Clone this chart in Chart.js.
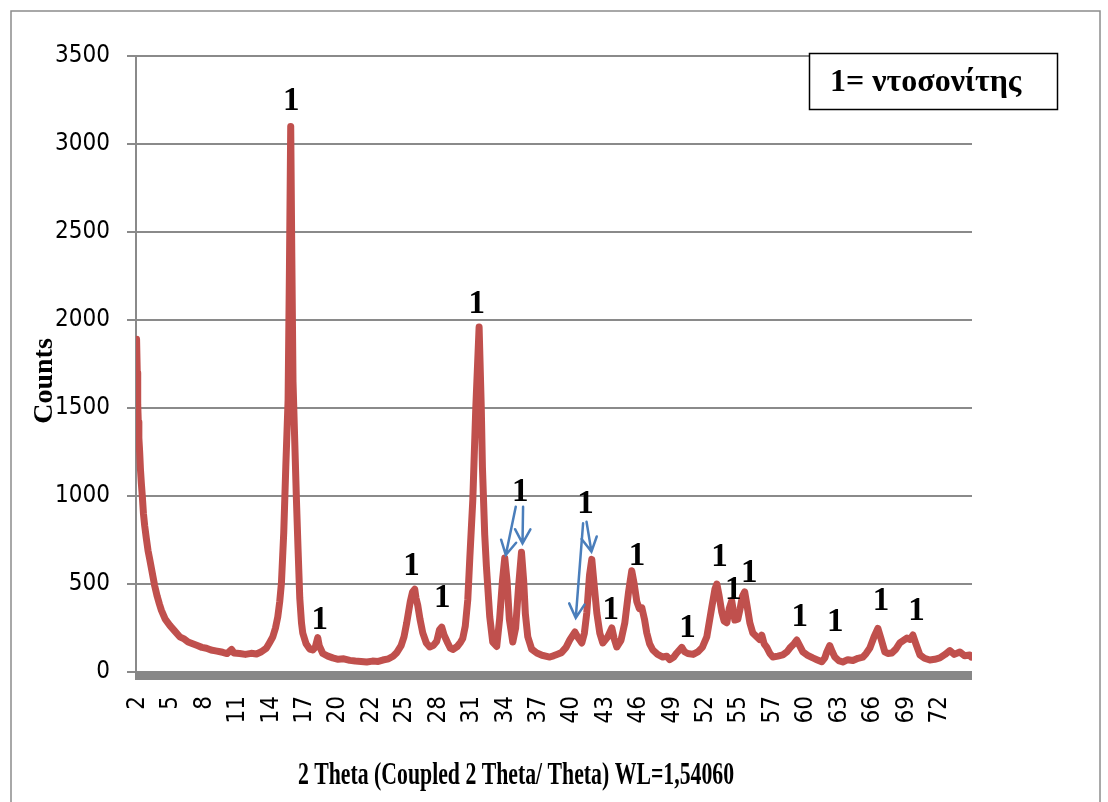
<!DOCTYPE html>
<html>
<head>
<meta charset="utf-8">
<script src="https://cdn.jsdelivr.net/npm/chart.js@4.4.0/dist/chart.umd.min.js"></script>
<style>
  html, body { margin: 0; padding: 0; background: #fff; }
  #wrap { width: 1108px; height: 802px; }
</style>
</head>
<body>
<div id="wrap"><canvas id="xrdChart" width="1108" height="802"></canvas></div>
<script>
const twoTheta = [
  1.90, 1.96, 2.00, 2.05, 2.10, 2.17, 2.24, 2.32, 2.40, 2.50, 2.61, 2.75, 2.90, 3.05, 3.25, 3.48, 3.70, 3.90, 4.07, 4.40,
  4.80, 5.20, 5.67, 6.00, 6.40, 6.80, 7.20, 7.60, 8.00, 8.40, 8.80, 9.20, 9.42, 9.80, 10.20, 10.40, 10.90, 11.40, 11.90, 12.37,
  12.80, 13.24, 13.50, 13.79, 14.03, 14.23, 14.40, 14.55, 14.75, 14.93, 15.13, 15.25, 15.36, 15.45, 15.56, 15.65, 15.86, 16.00, 16.15, 16.30,
  16.41, 16.70, 17.02, 17.28, 17.50, 17.72, 17.85, 18.16, 18.60, 19.03, 19.50, 20.00, 20.52, 21.00, 21.50, 22.00, 22.50, 23.00, 23.40, 23.90,
  24.30, 24.62, 25.00, 25.25, 25.49, 25.80, 26.00, 26.19, 26.30, 26.45, 26.65, 26.89, 27.20, 27.50, 27.80, 28.11, 28.35, 28.55, 28.75, 29.07,
  29.30, 29.51, 29.90, 30.20, 30.38, 30.60, 30.82, 31.00, 31.26, 31.52, 31.81, 32.00, 32.10, 32.30, 32.45, 32.74, 33.00, 33.35, 33.60, 33.85,
  34.05, 34.25, 34.45, 34.75, 35.00, 35.25, 35.51, 35.70, 35.85, 36.06, 36.40, 36.85, 37.30, 37.98, 38.30, 38.60, 39.00, 39.40, 39.73, 40.00,
  40.17, 40.40, 40.78, 41.00, 41.21, 41.45, 41.65, 41.85, 42.09, 42.35, 42.61, 43.05, 43.40, 43.60, 43.83, 44.20, 44.53, 44.85, 45.14, 45.35,
  45.58, 45.80, 46.02, 46.25, 46.45, 46.70, 46.98, 47.40, 47.85, 48.20, 48.46, 48.80, 49.07, 49.51, 49.75, 50.03, 50.50, 50.90, 51.30, 51.69,
  52.13, 52.40, 52.57, 52.75, 53.00, 53.20, 53.44, 53.65, 53.87, 54.05, 54.14, 54.40, 54.60, 54.80, 55.00, 55.20, 55.45, 55.71, 56.14, 56.30,
  56.49, 56.70, 56.93, 57.20, 57.46, 57.90, 58.33, 58.70, 58.94, 59.30, 59.55, 59.80, 60.08, 60.50, 60.95, 61.30, 61.73, 62.00, 62.17, 62.43,
  62.65, 62.87, 63.20, 63.57, 64.00, 64.45, 64.90, 65.32, 65.60, 65.93, 66.30, 66.63, 66.90, 67.24, 67.50, 67.85, 68.20, 68.55, 69.16, 69.45,
  69.69, 69.95, 70.30, 70.70, 71.17, 71.60, 72.04, 72.50, 72.92, 73.30, 73.79, 74.20, 74.66, 74.78
];
const counts = [
  1890, 1700, 1520, 1420, 1330, 1250, 1150, 1070, 1000, 900, 830, 760, 690, 640, 570, 490, 430, 385, 350, 300,
  265, 235, 200, 190, 170, 160, 150, 140, 135, 125, 120, 115, 112, 105, 128, 108, 105, 100, 106, 102,
  115, 136, 165, 199, 250, 313, 400, 506, 790, 1165, 1545, 2300, 3100, 2400, 1650, 1450, 977, 700, 420, 280,
  222, 160, 130, 125, 140, 195, 150, 105, 90, 80, 72, 75, 66, 62, 60, 57, 62, 60, 68, 75,
  90, 110, 150, 200, 280, 400, 455, 470, 420, 380, 300, 222, 165, 142, 150, 175, 240, 255, 210, 165,
  135, 128, 145, 170, 190, 260, 409, 650, 977, 1500, 1960, 1500, 1165, 780, 597, 313, 170, 145, 300, 520,
  648, 520, 300, 170, 250, 480, 680, 520, 330, 200, 130, 108, 95, 85, 92, 100, 110, 140, 182, 210,
  227, 200, 165, 220, 335, 550, 640, 500, 335, 220, 165, 200, 250, 190, 142, 180, 278, 450, 575, 500,
  400, 360, 365, 300, 222, 160, 125, 100, 85, 90, 70, 85, 108, 140, 115, 105, 100, 114, 140, 199,
  369, 470, 500, 440, 340, 290, 280, 360, 405, 330, 295, 300, 360, 430, 455, 380, 280, 222, 195, 185,
  210, 160, 140, 105, 85, 90, 97, 115, 136, 160, 182, 150, 114, 95, 80, 70, 58, 80, 114, 150,
  115, 85, 65, 57, 70, 65, 78, 85, 105, 136, 200, 248, 190, 114, 105, 108, 130, 165, 193, 185,
  210, 160, 97, 78, 68, 72, 80, 100, 122, 100, 114, 92, 97, 85
];

// category-style labels every ~2.918 degrees, as on the original axis
const tickLabels = ['2', '5', '8', '11', '14', '17', '20', '22', '25', '28', '31', '34', '37',
  '40', '43', '46', '49', '52', '55', '57', '60', '63', '66', '69', '72'];
const tickStart = 2;
const tickStep = 2.918;

// "1" markers (phase 1 = dawsonite) placed in data coordinates
const markTheta = [15.4, 17.9, 25.9, 28.6, 31.6, 35.4, 41.1, 43.3, 45.6, 50.0, 52.8, 54.0, 55.4, 59.8, 62.9, 66.9, 70.0];
const markCounts = [3240, 295, 600, 420, 2090, 1020, 950, 352, 655, 245, 648, 466, 560, 312, 284, 400, 342];

// blue arrows pointing from the labels to the peaks
const arrowFromTheta = [35.01, 35.65, 40.89, 41.19];
const arrowFromCounts = [939, 939, 845, 854];
const arrowToTheta = [34.14, 35.60, 40.25, 41.62];
const arrowToCounts = [665, 731, 307, 684];

const legendText = '1= ντοσονίτης';
const xTitle = '2 Theta (Coupled 2 Theta/ Theta) WL=1,54060';
const yTitle = 'Counts';

const points = twoTheta.map((t, i) => ({ x: t, y: counts[i] }));

function drawArrow(ctx, x1, y1, x2, y2) {
  const ang = Math.atan2(y2 - y1, x2 - x1);
  const len = 16;
  ctx.beginPath();
  ctx.moveTo(x1, y1);
  ctx.lineTo(x2, y2);
  ctx.moveTo(x2 - len * Math.cos(ang - 0.5), y2 - len * Math.sin(ang - 0.5));
  ctx.lineTo(x2, y2);
  ctx.lineTo(x2 - len * Math.cos(ang + 0.5), y2 - len * Math.sin(ang + 0.5));
  ctx.stroke();
}

const decorations = {
  id: 'decorations',
  beforeDraw(chart) {
    const ctx = chart.ctx;
    ctx.save();
    ctx.fillStyle = '#fff';
    ctx.fillRect(0, 0, chart.width, chart.height);
    ctx.restore();
  },
  beforeDatasetsDraw(chart) {
    const ctx = chart.ctx;
    const area = chart.chartArea;
    // thick grey category axis bar
    ctx.save();
    ctx.fillStyle = '#878787';
    ctx.fillRect(area.left - 1, area.bottom - 1, area.right - area.left + 1, 9);
    ctx.restore();
  },
  afterDraw(chart) {
    const ctx = chart.ctx;
    const xs = chart.scales.x;
    const ys = chart.scales.y;
    ctx.save();

    // outer frame
    ctx.strokeStyle = '#8c8c8c';
    ctx.lineWidth = 1.5;
    ctx.strokeRect(11, 11, 1089, 820);

    // peak markers
    ctx.fillStyle = '#000';
    ctx.font = 'bold 33px "Liberation Serif", "Times New Roman", serif';
    ctx.textAlign = 'center';
    ctx.textBaseline = 'middle';
    markTheta.forEach((t, i) => {
      ctx.fillText('1', xs.getPixelForValue(t), ys.getPixelForValue(markCounts[i]));
    });

    // arrows
    ctx.strokeStyle = '#4A7EBB';
    ctx.lineWidth = 2.5;
    ctx.lineCap = 'round';
    arrowFromTheta.forEach((t, i) => {
      drawArrow(ctx,
        xs.getPixelForValue(t), ys.getPixelForValue(arrowFromCounts[i]),
        xs.getPixelForValue(arrowToTheta[i]), ys.getPixelForValue(arrowToCounts[i]));
    });

    // legend box
    ctx.fillStyle = '#fff';
    ctx.fillRect(809, 53, 249, 56);
    ctx.strokeStyle = '#000';
    ctx.lineWidth = 1.5;
    ctx.strokeRect(809.5, 53.5, 248, 56);
    ctx.fillStyle = '#000';
    ctx.font = 'bold 32px "Liberation Serif", "Times New Roman", serif';
    ctx.textAlign = 'left';
    ctx.fillText(legendText, 830, 83);

    // axis titles
    ctx.font = 'bold 28px "Liberation Serif", "Times New Roman", serif';
    ctx.textAlign = 'center';
    ctx.save();
    ctx.translate(45, 381);
    ctx.rotate(-Math.PI / 2);
    ctx.fillText(yTitle, 0, 0);
    ctx.restore();

    ctx.font = 'bold 32px "Liberation Serif", "Times New Roman", serif';
    ctx.save();
    ctx.translate(516, 776);
    ctx.scale(0.68, 1);
    ctx.fillText(xTitle, 0, 0);
    ctx.restore();

    ctx.restore();
  }
};

const tickFont = { family: '"DejaVu Sans Condensed", "DejaVu Sans", sans-serif', size: 24 };

new Chart(document.getElementById('xrdChart').getContext('2d'), {
  type: 'line',
  data: {
    datasets: [{
      data: points,
      borderColor: '#C0504D',
      borderWidth: 7,
      borderJoinStyle: 'round',
      borderCapStyle: 'round',
      pointRadius: 0,
      tension: 0,
      fill: false
    }]
  },
  options: {
    responsive: false,
    animation: false,
    layout: { padding: { top: 56, right: 136, left: 0, bottom: 0 } },
    plugins: { legend: { display: false }, tooltip: { enabled: false } },
    scales: {
      x: {
        type: 'linear',
        min: 1.85,
        max: 74.85,
        afterFit(scale) { scale.height = 130; },
        afterBuildTicks(scale) {
          scale.ticks = tickLabels.map((lab, i) => ({ value: tickStart + i * tickStep }));
        },
        grid: { display: false },
        border: { display: false },
        ticks: {
          autoSkip: false,
          minRotation: 90,
          maxRotation: 90,
          padding: 16,
          color: '#000',
          font: tickFont,
          callback: (value, index) => tickLabels[index]
        }
      },
      y: {
        min: 0,
        max: 3500,
        afterFit(scale) { scale.width = 136; },
        grid: { color: '#8a8a8a', lineWidth: 2, tickLength: 9 },
        border: { color: '#8a8a8a', width: 2 },
        ticks: {
          stepSize: 500,
          padding: 17,
          color: '#000',
          font: tickFont,
          callback: (value) => String(value)
        }
      }
    }
  },
  plugins: [decorations]
});
</script>
</body>
</html>
